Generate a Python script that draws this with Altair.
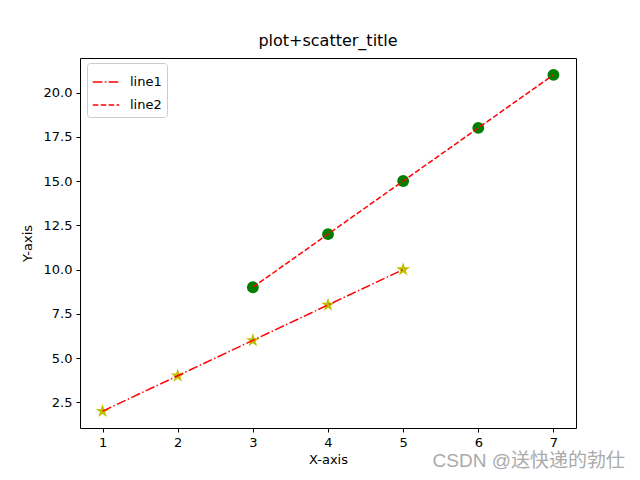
import altair as alt
import pandas as pd

x1 = [1, 2, 3, 4, 5]
y1 = [2, 4, 6, 8, 10]
x2 = [3, 4, 5, 6, 7]
y2 = [9, 12, 15, 18, 21]
series_names = ["line1", "line2"]
x_ticks = [1, 2, 3, 4, 5, 6, 7]
y_ticks = [2.5, 5.0, 7.5, 10.0, 12.5, 15.0, 17.5, 20.0]

rows = []
for xv, yv in zip(x1, y1):
    rows.append({"x": xv, "y": yv, "series": series_names[0]})
for xv, yv in zip(x2, y2):
    rows.append({"x": xv, "y": yv, "series": series_names[1]})
df = pd.DataFrame(rows)

STAR = ("M0,-1 L0.2245,-0.309 L0.951,-0.309 L0.3633,0.118 L0.588,0.809 L0,0.382 "
        "L-0.588,0.809 L-0.3633,0.118 L-0.951,-0.309 L-0.2245,-0.309 Z")

FONT = "DejaVu Sans"
xs = alt.Scale(domain=[0.7, 7.3], nice=False, zero=False)
ys = alt.Scale(domain=[1.05, 21.95], nice=False, zero=False)
xax = alt.Axis(values=x_ticks, title="X-axis", format="d", grid=False)
yax = alt.Axis(values=y_ticks, title="Y-axis", format=".1f", grid=False)

base = alt.Chart(df)
stars = base.mark_point(shape=STAR, filled=True, color="#bfbf00", size=210, opacity=1).encode(
    x=alt.X("x:Q", scale=xs, axis=xax), y=alt.Y("y:Q", scale=ys, axis=yax)
).transform_filter(alt.datum.series == "line1")
dots = base.mark_circle(color="green", size=140, opacity=1).encode(
    x=alt.X("x:Q", scale=xs), y=alt.Y("y:Q", scale=ys)
).transform_filter(alt.datum.series == "line2")
lines = base.mark_line(color="red", strokeWidth=1.5).encode(
    x=alt.X("x:Q", scale=xs), y=alt.Y("y:Q", scale=ys),
    strokeDash=alt.StrokeDash("series:N",
        scale=alt.Scale(domain=series_names, range=[[9.6, 2.4, 1.5, 2.4], [5.55, 2.4]]),
        legend=alt.Legend(title=None, orient="none", legendX=7, legendY=5,
                          symbolType="stroke", symbolStrokeColor="red", symbolStrokeWidth=1.5,
                          symbolSize=700, labelFontSize=13, labelFont=FONT,
                          fillColor="white", strokeColor="#cccccc", cornerRadius=3,
                          padding=5, rowPadding=2, labelOffset=10, symbolOffset=0)))
mark = alt.Chart(pd.DataFrame({"t": ["CSDN @送快递的勃仕"]})).mark_text(
    align="right", baseline="middle", fontSize=19, color="#aaaaaa",
    font="Liberation Sans, Noto Sans CJK SC").encode(text="t:N", x=alt.value(545), y=alt.value(403))

chart = alt.layer(stars, dots, lines, mark).properties(
    width=496, height=370,
    title=alt.Title("plot+scatter_title", fontSize=16, font=FONT, fontWeight="normal", offset=9),
    autosize=alt.AutoSizeParams(type="none"),
    padding={"left": 72, "top": 50, "right": 56, "bottom": 44},
).configure_view(stroke="black", strokeWidth=1).configure_axis(
    domain=False, tickColor="black", tickSize=4, labelFontSize=13, labelFont=FONT,
    labelColor="black", titleFont=FONT, titleFontSize=13, titleFontWeight="normal",
    titleColor="black", labelPadding=4
).configure_axisX(titlePadding=4).configure_axisY(titlePadding=9)

chart.save("out.html", embed_options={"renderer": "svg", "actions": False})
